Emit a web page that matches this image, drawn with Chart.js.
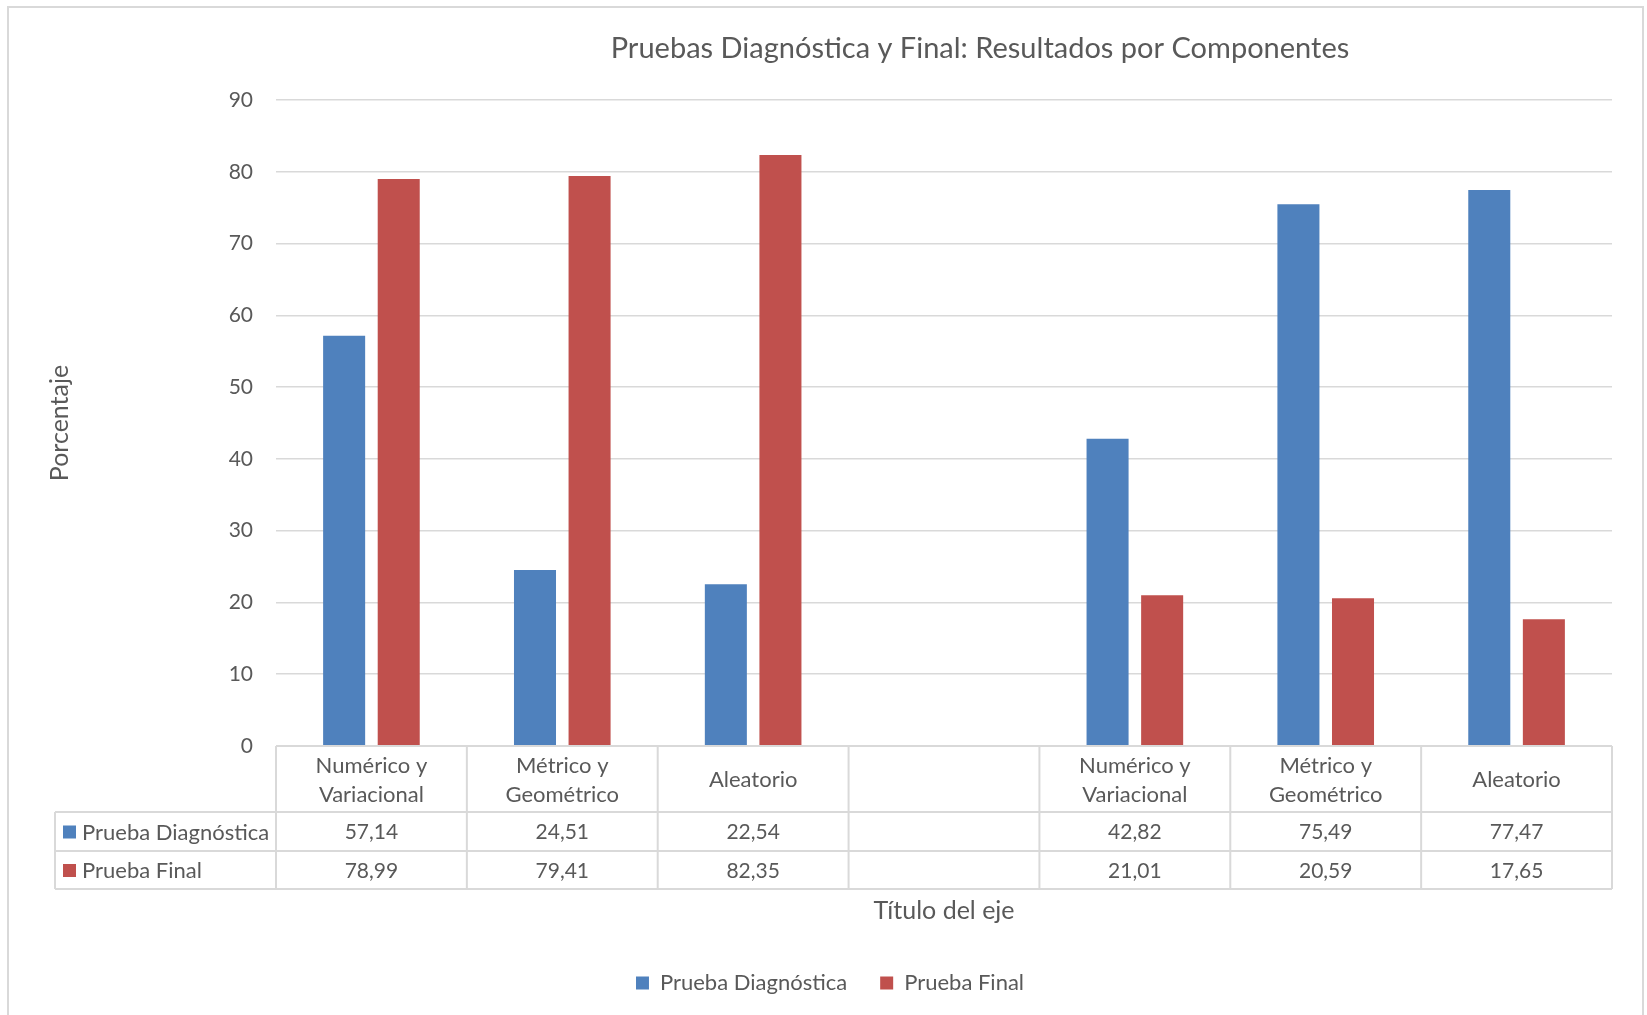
<!DOCTYPE html>
<html>
<head>
<meta charset="utf-8">
<script src="https://cdn.jsdelivr.net/npm/chart.js@4"></script>
<style>
  html, body { margin: 0; padding: 0; background: #fff; }
  #wrap { width: 1647px; height: 1015px; position: relative; }
</style>
</head>
<body>
<div id="wrap"><canvas id="chart"></canvas></div>
<script>
// componentes (the empty slot splits the two test groups)
const categories = [
  ["Numérico y", "Variacional"],
  ["Métrico y", "Geométrico"],
  ["Aleatorio"],
  [""],
  ["Numérico y", "Variacional"],
  ["Métrico y", "Geométrico"],
  ["Aleatorio"]
];
const seriesNames = ["Prueba Diagnóstica", "Prueba Final"];
const diagnostica = [57.14, 24.51, 22.54, null, 42.82, 75.49, 77.47];
const final = [78.99, 79.41, 82.35, null, 21.01, 20.59, 17.65];
const yTicks = [0, 10, 20, 30, 40, 50, 60, 70, 80, 90];

const azul = '#4f81bd';
const rojo = '#c0504d';
const gris = '#595959';
const linea = '#d9d9d9';
const fuente = "Lato, 'Open Sans', sans-serif";

Chart.defaults.font.family = fuente;
Chart.defaults.color = gris;

function fmt(v) {
  return v == null ? '' : v.toFixed(2).replace('.', ',');
}

// frame, title and the data table under the plot
const tablaPlugin = {
  id: 'tabla',
  afterLayout(chart) {
    // centre the legend on the whole frame, not just the plot side
    if (chart.legend) {
      chart.legend.left += 24;
      chart.legend.right += 24;
    }
  },
  beforeDraw(chart) {
    const ctx = chart.ctx;
    ctx.save();
    ctx.strokeStyle = linea;
    ctx.lineWidth = 2;
    ctx.beginPath();
    ctx.moveTo(8, 1020); ctx.lineTo(8, 7); ctx.lineTo(1643, 7); ctx.lineTo(1643, 1020);
    ctx.stroke();
    ctx.fillStyle = gris;
    ctx.font = '29px ' + fuente;
    ctx.textAlign = 'center';
    ctx.textBaseline = 'middle';
    ctx.fillText('Pruebas Diagnóstica y Final: Resultados por Componentes', 980, 49);
    ctx.restore();
  },
  afterDraw(chart) {
    const ctx = chart.ctx;
    const a = chart.chartArea;
    const x = chart.scales.x;
    const n = categories.length;
    const step = (a.right - a.left) / n;
    const top = a.bottom;
    const head = top + 66;
    const r1 = head + 39;
    const r2 = r1 + 38;
    const leftCol = 55;

    ctx.save();
    ctx.strokeStyle = linea;
    ctx.lineWidth = 2;
    ctx.beginPath();
    ctx.moveTo(a.left, top); ctx.lineTo(a.right, top);
    [head, r1, r2].forEach(y => { ctx.moveTo(leftCol, y); ctx.lineTo(a.right, y); });
    ctx.moveTo(leftCol, head); ctx.lineTo(leftCol, r2);
    for (let i = 0; i < n; i++) {
      const b = x.getPixelForValue(i) - step / 2;
      ctx.moveTo(b, top); ctx.lineTo(b, r2);
    }
    ctx.moveTo(a.right, top); ctx.lineTo(a.right, r2);
    ctx.stroke();

    ctx.fillStyle = gris;
    ctx.textAlign = 'center';
    ctx.textBaseline = 'middle';
    categories.forEach((lab, i) => {
      const cx = x.getPixelForValue(i);
      const mid = (top + head) / 2 + 1;
      ctx.font = '22px ' + fuente;
      lab.forEach((t, j) => {
        ctx.fillText(t, cx, mid + (j - (lab.length - 1) / 2) * 29);
      });
      ctx.font = '21px ' + fuente;
      ctx.fillText(fmt(diagnostica[i]), cx, (head + r1) / 2 + 1);
      ctx.fillText(fmt(final[i]), cx, (r1 + r2) / 2 + 1);
    });

    // row headers with series swatches
    ctx.textAlign = 'left';
    ctx.font = '22px ' + fuente;
    [[azul, seriesNames[0], (head + r1) / 2], [rojo, seriesNames[1], (r1 + r2) / 2]].forEach(([c, t, y]) => {
      ctx.fillStyle = c;
      ctx.fillRect(63, y - 6, 13, 13);
      ctx.fillStyle = gris;
      ctx.fillText(t, 82, y + 1);
    });
    ctx.restore();
  }
};

new Chart(document.getElementById('chart'), {
  type: 'bar',
  data: {
    labels: categories,
    datasets: [
      { label: seriesNames[0], data: diagnostica, backgroundColor: azul },
      { label: seriesNames[1], data: final, backgroundColor: rojo }
    ]
  },
  options: {
    responsive: true,
    maintainAspectRatio: false,
    animation: false,
    datasets: {
      bar: { barPercentage: 0.77, categoryPercentage: 0.572 }
    },
    layout: { padding: { top: 100, right: 35, bottom: 11, left: 0 } },
    plugins: {
      title: { display: false },
      tooltip: { enabled: false },
      legend: {
        position: 'bottom',
        labels: {
          boxWidth: 13,
          boxHeight: 13,
          padding: 33,
          color: gris,
          font: { size: 22 }
        }
      }
    },
    scales: {
      x: {
        grid: { display: false },
        border: { display: false },
        ticks: { display: false },
        title: {
          display: true,
          text: 'Título del eje',
          color: gris,
          font: { size: 25 },
          padding: { top: 0, bottom: 13 }
        },
        afterFit(scale) { scale.height = 193; }
      },
      y: {
        min: 0,
        max: 90,
        afterBuildTicks(scale) { scale.ticks = yTicks.map(v => ({ value: v })); },
        grid: { color: linea, lineWidth: 1.5, drawTicks: false },
        border: { display: false },
        ticks: { padding: 23, color: gris, font: { size: 21 } },
        title: {
          display: true,
          text: 'Porcentaje',
          color: gris,
          font: { size: 25 },
          padding: { top: 45, bottom: 0 }
        },
        afterFit(scale) { scale.width = 276; }
      }
    }
  },
  plugins: [tablaPlugin]
});
</script>
</body>
</html>
